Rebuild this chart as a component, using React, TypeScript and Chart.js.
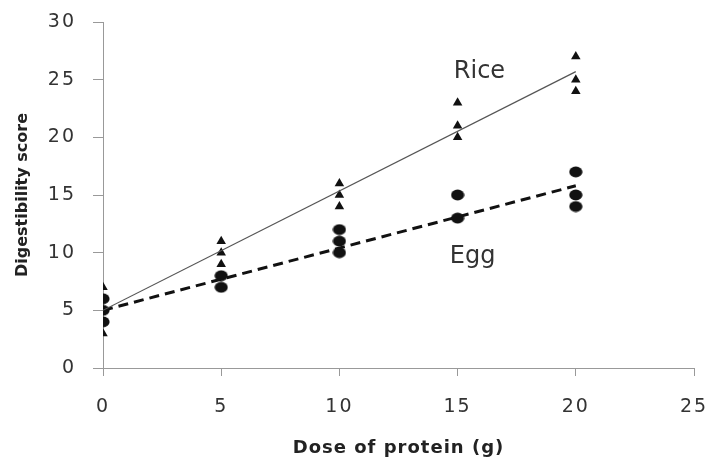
import React, { useEffect, useRef } from "react";
import { Chart, registerables } from "chart.js";

Chart.register(...registerables);

const doses = [0, 5, 10, 15, 20];
const riceScores = [
  [7, 5, 3],
  [11, 10, 9],
  [16, 15, 14],
  [23, 21, 20],
  [27, 25, 24],
];
const eggScores = [
  [6, 5, 4],
  [8, 7],
  [12, 11, 10],
  [15, 13],
  [17, 15, 14],
];
const trendX = [0, 20];
const riceTrend = [5, 25.7];
const eggTrend = [5, 15.8];
const xTicks = [0, 5, 10, 15, 20, 25];
const yTicks = [0, 5, 10, 15, 20, 25, 30];
const seriesLabels = [
  { text: "Rice", x: 14.84, y: 25.15 },
  { text: "Egg", x: 14.67, y: 9.13 },
];

function toPoints(scores: number[][]) {
  const pts: { x: number; y: number }[] = [];
  scores.forEach((list, i) => list.forEach((v) => pts.push({ x: doses[i], y: v })));
  return pts;
}

function ellipseImage() {
  const c = document.createElement("canvas");
  c.width = 14;
  c.height = 12;
  const g = c.getContext("2d")!;
  g.fillStyle = "#111";
  g.beginPath();
  g.ellipse(7, 6, 6.6, 5.4, 0, 0, Math.PI * 2);
  g.fill();
  return c;
}

function wrapSpacing(s: any, labelSpacing: string, titleSpacing: string) {
  if (s._spacingWrapped) return;
  s._spacingWrapped = true;
  const origLabels = s.drawLabels;
  const origTitle = s.drawTitle;
  s.drawLabels = function (area: any) {
    const ctx = this.ctx;
    ctx.save();
    ctx.letterSpacing = labelSpacing;
    origLabels.call(this, area);
    ctx.restore();
  };
  s.drawTitle = function (area: any) {
    const ctx = this.ctx;
    ctx.save();
    ctx.letterSpacing = titleSpacing;
    origTitle.call(this, area);
    ctx.restore();
  };
}

export default function App() {
  const ref = useRef<HTMLCanvasElement | null>(null);
  useEffect(() => {
    if (!ref.current) return;
    const labelPlugin = {
      id: "seriesLabels",
      afterDatasetsDraw(chart: any) {
        const ctx = chart.ctx;
        const xs = chart.scales.x;
        const ys = chart.scales.y;
        ctx.save();
        ctx.letterSpacing = "0px";
        ctx.font = '24px "DejaVu Sans"';
        ctx.fillStyle = "#333";
        ctx.textBaseline = "alphabetic";
        ctx.textAlign = "left";
        seriesLabels.forEach((l) => {
          ctx.fillText(l.text, xs.getPixelForValue(l.x), ys.getPixelForValue(l.y));
        });
        ctx.restore();
      },
    };
    const chart = new Chart(ref.current, {
      type: "scatter",
      data: {
        datasets: [
          {
            label: "Rice trend",
            data: trendX.map((x, i) => ({ x, y: riceTrend[i] })),
            showLine: true,
            borderColor: "#555",
            borderWidth: 1.2,
            pointRadius: 0,
          },
          {
            label: "Egg trend",
            data: trendX.map((x, i) => ({ x, y: eggTrend[i] })),
            showLine: true,
            borderColor: "#111",
            borderWidth: 3,
            borderDash: [10, 6],
            pointRadius: 0,
          },
          {
            label: "Rice",
            data: toPoints(riceScores),
            pointStyle: "triangle",
            pointRadius: 5.5,
            backgroundColor: "#111",
            borderColor: "#111",
            borderWidth: 0,
          },
          {
            label: "Egg",
            data: toPoints(eggScores),
            pointStyle: ellipseImage() as any,
            pointRadius: 6,
            backgroundColor: "#111",
            borderColor: "#111",
          },
        ],
      },
      options: {
        animation: false,
        responsive: false,
        devicePixelRatio: 1,
        layout: { padding: { top: 22, right: 14, left: 0, bottom: 0 } },
        plugins: { legend: { display: false }, tooltip: { enabled: false } },
        scales: {
          x: {
            type: "linear",
            min: 0,
            max: 25,
            afterFit: (s: any) => {
              s.height = 91;
              s.paddingLeft = 0;
              s.paddingRight = 0;
              wrapSpacing(s, "2px", "1px");
            },
            afterBuildTicks: (s: any) => {
              s.ticks = xTicks.map((v) => ({ value: v }));
            },
            border: { color: "#999", width: 1 },
            grid: { display: true, drawOnChartArea: false, drawTicks: true, tickLength: 8, tickColor: "#999" },
            ticks: { padding: 20, color: "#333", font: { family: "DejaVu Sans", size: 19 } },
            title: {
              display: true,
              text: "Dose of protein (g)",
              color: "#222",
              font: { family: "DejaVu Sans", size: 18, weight: "bold" },
              padding: { top: 6, bottom: 0 },
            },
          },
          y: {
            type: "linear",
            min: 0,
            max: 30,
            afterFit: (s: any) => {
              s.width = 103;
              s.paddingTop = 0;
              s.paddingBottom = 0;
              wrapSpacing(s, "2px", "0px");
            },
            afterBuildTicks: (s: any) => {
              s.ticks = yTicks.map((v) => ({ value: v }));
            },
            border: { color: "#999", width: 1 },
            grid: { display: true, drawOnChartArea: false, drawTicks: true, tickLength: 10, tickColor: "#999" },
            ticks: { padding: 17, color: "#333", font: { family: "DejaVu Sans", size: 19 } },
            title: {
              display: true,
              text: "Digestibility score",
              color: "#222",
              font: { family: "DejaVu Sans", size: 16, weight: "bold" },
              padding: { top: 13, bottom: 0 },
            },
          },
        },
      },
      plugins: [labelPlugin],
    });
    return () => chart.destroy();
  }, []);
  return (
    <div style={{ position: "absolute", left: 0, top: 0, width: 708, height: 459, background: "#fff" }}>
      <canvas ref={ref} width={708} height={459} />
    </div>
  );
}
